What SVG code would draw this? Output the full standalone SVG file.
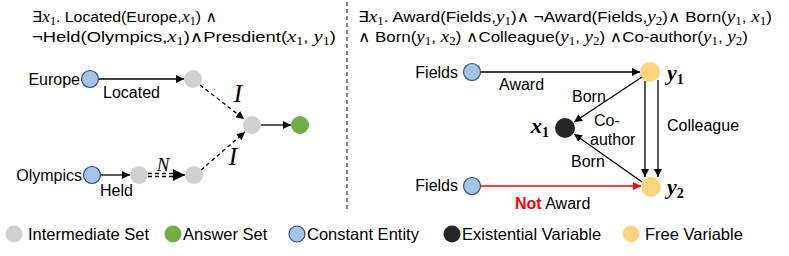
<svg xmlns="http://www.w3.org/2000/svg" width="789" height="256" viewBox="0 0 789 256">
<style>
  text { font-family: "Liberation Sans", "DejaVu Sans", sans-serif; fill: #000; }
  .hdr { font-size: 15px; }
  .lbl { font-size: 16px; }
  .leg { font-size: 16.5px; }
  .m { font-family: "Liberation Serif", "DejaVu Serif", serif; font-style: italic; font-size: 17px; }
  .s { font-family: "Liberation Serif", "DejaVu Serif", serif; font-style: normal; font-size: 11.5px; }
  .v { font-family: "Liberation Serif", "DejaVu Serif", serif; font-style: italic; font-weight: bold; font-size: 22px; }
  .vs { font-family: "Liberation Serif", "DejaVu Serif", serif; font-weight: bold; font-size: 14px; }
  .op { font-family: "Liberation Serif", "DejaVu Serif", serif; font-style: italic; font-size: 25px; }
  .gray { fill: #d0d0d0; }
  .green { fill: #70ad47; }
  .blue { fill: #a3c4e8; stroke: #2f4f74; stroke-width: 1.2; }
  .black { fill: #262626; }
  .orange { fill: #ffd47e; }
  .e { stroke: #000; stroke-width: 1.3; fill: none; }
  .d { stroke-dasharray: 4 3; }
  .red { stroke: #ff0000; }
</style>
<defs>
  <marker id="ah" viewBox="0 0 10 10" refX="10" refY="5" markerWidth="8" markerHeight="8" markerUnits="userSpaceOnUse" orient="auto">
    <path d="M0,0 L10,5 L0,10 z" fill="#000"/>
  </marker>
  <marker id="ahr" viewBox="0 0 10 10" refX="10" refY="5" markerWidth="8" markerHeight="8" markerUnits="userSpaceOnUse" orient="auto">
    <path d="M0,0 L10,5 L0,10 z" fill="#ff0000"/>
  </marker>
  <marker id="ahb" viewBox="0 0 10 10" refX="10" refY="5" markerWidth="12" markerHeight="12" markerUnits="userSpaceOnUse" orient="auto">
    <path d="M0,0 L10,5 L0,10 z" fill="#000"/>
  </marker>
</defs>

<!-- Headers -->
<g id="formula-left" class="hdr">
  <text x="32" y="22" textLength="185" lengthAdjust="spacingAndGlyphs">∃<tspan class="m">x</tspan><tspan class="s" dy="3">1</tspan><tspan dy="-3">. Located(Europe,</tspan><tspan class="m">x</tspan><tspan class="s" dy="3">1</tspan><tspan dy="-3">) ∧</tspan></text>
  <text x="32" y="42" textLength="304" lengthAdjust="spacingAndGlyphs">¬Held(Olympics,<tspan class="m">x</tspan><tspan class="s" dy="3">1</tspan><tspan dy="-3">)∧Presdient(</tspan><tspan class="m">x</tspan><tspan class="s" dy="3">1</tspan><tspan dy="-3">, </tspan><tspan class="m">y</tspan><tspan class="s" dy="3">1</tspan><tspan dy="-3">)</tspan></text>
</g>
<g id="formula-right" class="hdr">
  <text x="358" y="22" textLength="414" lengthAdjust="spacingAndGlyphs">∃<tspan class="m">x</tspan><tspan class="s" dy="3">1</tspan><tspan dy="-3">. Award(Fields,</tspan><tspan class="m">y</tspan><tspan class="s" dy="3">1</tspan><tspan dy="-3">)∧ ¬Award(Fields,</tspan><tspan class="m">y</tspan><tspan class="s" dy="3">2</tspan><tspan dy="-3">)∧ Born(</tspan><tspan class="m">y</tspan><tspan class="s" dy="3">1</tspan><tspan dy="-3">, </tspan><tspan class="m">x</tspan><tspan class="s" dy="3">1</tspan><tspan dy="-3">)</tspan></text>
  <text x="358" y="42" textLength="390" lengthAdjust="spacingAndGlyphs">∧ Born(<tspan class="m">y</tspan><tspan class="s" dy="3">1</tspan><tspan dy="-3">, </tspan><tspan class="m">x</tspan><tspan class="s" dy="3">2</tspan><tspan dy="-3">) ∧Colleague(</tspan><tspan class="m">y</tspan><tspan class="s" dy="3">1</tspan><tspan dy="-3">, </tspan><tspan class="m">y</tspan><tspan class="s" dy="3">2</tspan><tspan dy="-3">) ∧Co-author(</tspan><tspan class="m">y</tspan><tspan class="s" dy="3">1</tspan><tspan dy="-3">, </tspan><tspan class="m">y</tspan><tspan class="s" dy="3">2</tspan><tspan dy="-3">)</tspan></text>
</g>

<line id="divider" x1="347" y1="2" x2="347" y2="210" stroke="#333" stroke-width="1.2" stroke-dasharray="4 3"/>

<!-- Connectors -->
<g id="connectors">
  <line class="e" x1="99" y1="79" x2="184" y2="79" marker-end="url(#ah)"/>
  <line class="e d" x1="200" y1="85" x2="244" y2="119" marker-end="url(#ah)"/>
  <line class="e d" x1="201" y1="170" x2="245" y2="132" marker-end="url(#ah)"/>
  <line class="e" x1="261" y1="125" x2="291" y2="125" marker-end="url(#ah)"/>
  <line class="e" x1="101" y1="175" x2="130" y2="175" marker-end="url(#ah)"/>
  <line class="e d" x1="148" y1="173.5" x2="178" y2="173.5"/>
  <line class="e d" x1="148" y1="176.5" x2="178" y2="176.5"/>
  <line class="e" x1="176" y1="175" x2="185" y2="175" stroke-width="0.1" marker-end="url(#ahb)"/>

  <line class="e" x1="481" y1="72" x2="640" y2="72" marker-end="url(#ah)"/>
  <line class="e" x1="642" y1="77" x2="574" y2="122" marker-end="url(#ah)"/>
  <line class="e" x1="642" y1="182" x2="574" y2="134" marker-end="url(#ah)"/>
  <line class="e" x1="645" y1="81" x2="645" y2="177" marker-end="url(#ah)"/>
  <line class="e" x1="658" y1="80" x2="658" y2="177" marker-end="url(#ah)"/>
  <line class="e red" x1="481" y1="186" x2="641" y2="186" marker-end="url(#ahr)"/>
</g>

<!-- Edge labels -->
<g id="edge-labels" class="lbl">
  <text x="103" y="98">Located</text>
  <text x="100" y="196">Held</text>
  <text class="m" x="163" y="171" text-anchor="middle" style="font-size:19px">N</text>
  <text class="op" x="238" y="102" text-anchor="middle">I</text>
  <text class="op" x="233" y="165" text-anchor="middle">I</text>
  <text x="499" y="90">Award</text>
  <text x="572" y="102">Born</text>
  <text x="594" y="126">Co-</text>
  <text x="590" y="145">author</text>
  <text x="571" y="167">Born</text>
  <text x="667" y="131">Colleague</text>
  <text x="515" y="209"><tspan fill="#ff0000" font-weight="bold">Not</tspan> Award</text>
</g>

<!-- Left nodes -->
<g id="n-europe"><circle class="blue" cx="90" cy="79" r="8.5"/><text class="lbl" x="80" y="85" text-anchor="end">Europe</text></g>
<g id="n-located"><circle class="gray" cx="193" cy="79" r="9"/></g>
<g id="n-olympics"><circle class="blue" cx="92" cy="175" r="8.5"/><text class="lbl" x="82" y="181" text-anchor="end">Olympics</text></g>
<g id="n-held"><circle class="gray" cx="139" cy="175" r="9"/></g>
<g id="n-neg"><circle class="gray" cx="194" cy="175" r="9"/></g>
<g id="n-inter"><circle class="gray" cx="252" cy="125" r="9"/></g>
<g id="n-answer"><circle class="green" cx="300" cy="125" r="9"/></g>

<!-- Right nodes -->
<g id="n-fields1"><circle class="blue" cx="472" cy="72" r="8.5"/><text class="lbl" x="458" y="78" text-anchor="end">Fields</text></g>
<g id="n-fields2"><circle class="blue" cx="472" cy="186" r="8.5"/><text class="lbl" x="458" y="191" text-anchor="end">Fields</text></g>
<g id="n-y1"><circle class="orange" cx="650" cy="72" r="10"/><text x="667" y="80"><tspan class="v">y</tspan><tspan class="vs" dy="4">1</tspan></text></g>
<g id="n-y2"><circle class="orange" cx="651" cy="187" r="10"/><text x="667" y="194"><tspan class="v">y</tspan><tspan class="vs" dy="4">2</tspan></text></g>
<g id="n-x1"><circle class="black" cx="565" cy="128" r="10"/><text x="531" y="133"><tspan class="v">x</tspan><tspan class="vs" dy="4">1</tspan></text></g>

<!-- Legend -->
<g id="legend" class="leg">
  <circle class="gray" cx="14" cy="234" r="8.5"/><text x="28" y="240">Intermediate Set</text>
  <circle class="green" cx="173" cy="234" r="8.5"/><text x="183" y="240">Answer Set</text>
  <circle class="blue" cx="297" cy="234" r="8"/><text x="307" y="240">Constant Entity</text>
  <circle class="black" cx="452" cy="234" r="8.5"/><text x="462" y="240">Existential Variable</text>
  <circle class="orange" cx="631" cy="234" r="8.5"/><text x="645" y="240">Free Variable</text>
</g>
</svg>
